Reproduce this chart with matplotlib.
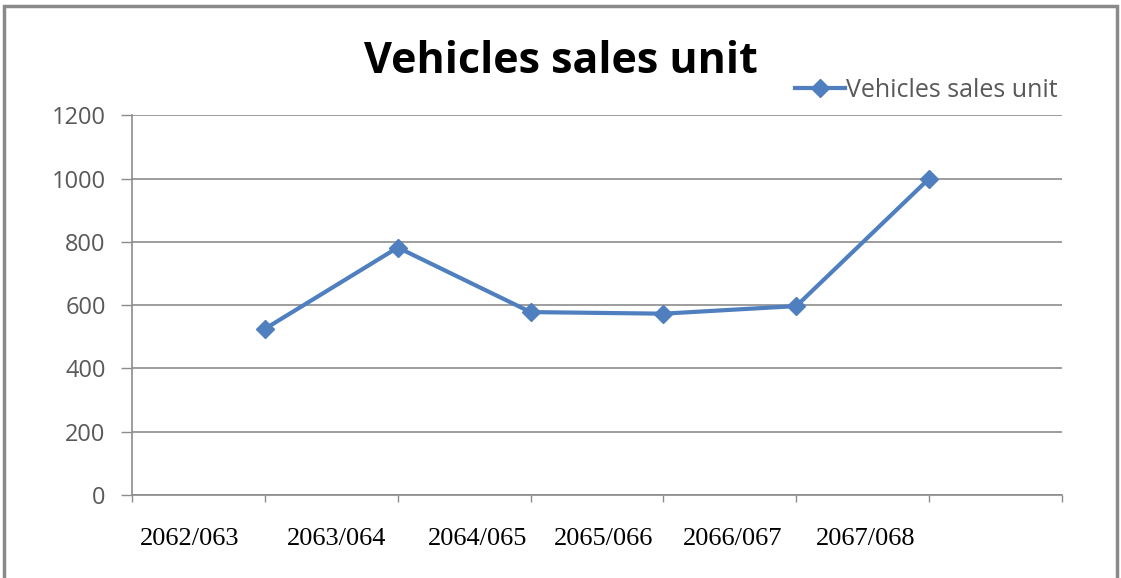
import matplotlib
matplotlib.use("Agg")
import matplotlib.pyplot as plt
from matplotlib.patches import Rectangle

categories = ["2062/063", "2063/064", "2064/065", "2065/066", "2066/067", "2067/068"]
values = [525, 782, 578, 573, 597, 1000]
yticks = [0, 200, 400, 600, 800, 1000, 1200]
label_x = [0.43, 1.54, 2.60, 3.55, 4.52, 5.52]  # manual text-box positions (data coords)

LINE = "#4F7FBF"
GRID = "#8C8C8C"
TXT = "#595959"

fig = plt.figure(figsize=(11.21, 5.78), dpi=100)
fig.patch.set_facecolor("white")
fig.patches.append(Rectangle((0.004, -0.01), 0.992, 1.0, transform=fig.transFigure,
                             fill=False, edgecolor="#8A8A8A", linewidth=2.5))

ax = fig.add_axes([0.1178, 0.1436, 0.8296, 0.657])
xs = list(range(1, len(values) + 1))
ax.plot(xs, values, color=LINE, linewidth=3, marker="D", markersize=9,
        markerfacecolor=LINE, markeredgecolor=LINE, label="Vehicles sales unit", zorder=3)

ax.set_xlim(0, 7)
ax.set_ylim(0, 1200)
ax.set_yticks(yticks)
ax.set_yticklabels([str(v) for v in yticks], fontsize=17, color=TXT, family="Open Sans")
ax.set_xticks(range(0, 8))
ax.set_xticklabels([])
ax.tick_params(axis="y", length=8, color=GRID, width=1, pad=11)
ax.tick_params(axis="x", length=5, color=GRID, width=1)
ax.grid(axis="y", color=GRID, linewidth=1.2)
ax.set_axisbelow(True)
for s in ["top", "right"]:
    ax.spines[s].set_visible(False)
for s in ["left", "bottom"]:
    ax.spines[s].set_color(GRID)
    ax.spines[s].set_linewidth(1.2)

for x, c in zip(label_x, categories):
    ax.text(x, -0.115, c, transform=ax.get_xaxis_transform(), ha="center", va="center",
            fontsize=19, family="Liberation Serif", color="black")

fig.text(0.5, 0.893, "Vehicles sales unit", ha="center", va="center",
         fontsize=31, fontweight="bold", family="Open Sans", color="black")

leg = ax.legend(loc="center right", bbox_to_anchor=(1.006, 1.065), frameon=False,
                prop={"family": "Open Sans", "size": 18}, handlelength=2.0,
                handletextpad=0.05, labelcolor=TXT, borderaxespad=0)

fig.savefig("out.png", dpi=100)
